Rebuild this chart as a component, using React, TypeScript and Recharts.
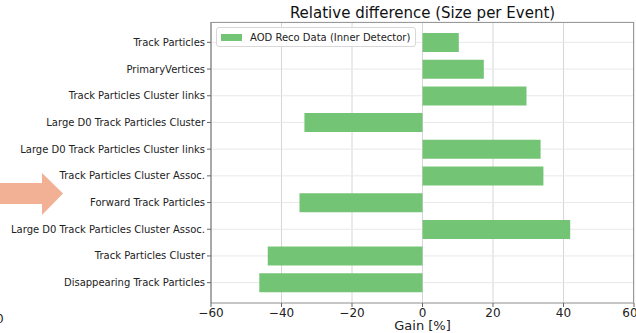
import { BarChart, Bar, XAxis, YAxis, CartesianGrid } from "recharts";

const categories = [
  "Track Particles",
  "PrimaryVertices",
  "Track Particles Cluster links",
  "Large D0 Track Particles Cluster",
  "Large D0 Track Particles Cluster links",
  "Track Particles Cluster Assoc.",
  "Forward Track Particles",
  "Large D0 Track Particles Cluster Assoc.",
  "Track Particles Cluster",
  "Disappearing Track Particles",
];
const gain = [10.3, 17.4, 29.5, -33.5, 33.5, 34.3, -34.9, 41.9, -43.9, -46.3];
const xTicks = [-60, -40, -20, 0, 20, 40, 60];
const seriesName = "AOD Reco Data (Inner Detector)";

const data = categories.map((name, i) => ({ name, gain: gain[i] }));

const FONT = "'DejaVu Sans', sans-serif";
const GREEN = "#74c476";

function CategoryTick(props: any) {
  const { x, y, payload } = props;
  return (
    <text x={x} y={y} dy={3.5} textAnchor="end" fontSize={10} fill="#222" fontFamily={FONT}>
      {payload.value}
    </text>
  );
}

export default function App() {
  return (
    <div style={{ position: "relative", width: 636, height: 333, background: "#fff", fontFamily: FONT }}>
      <style>{"body{margin:0}"}</style>
      <BarChart
        width={636}
        height={333}
        data={data}
        layout="vertical"
        margin={{ top: 22, right: 2, bottom: 0, left: 0 }}
      >
        <CartesianGrid horizontal={false} stroke="#d6d6d6" />
        <CartesianGrid vertical={false} stroke="#e8e8e8" />
        <XAxis
          type="number"
          domain={[-60, 60]}
          ticks={xTicks}
          height={30}
          tickFormatter={(v: number) => (v < 0 ? "\u2212" + Math.abs(v) : String(v))}
          tick={{ fontSize: 12, fill: "#222", fontFamily: FONT, dy: -1 }}
          tickLine={{ stroke: "#666" }}
          tickSize={4}
          axisLine={{ stroke: "#999" }}
        />
        <YAxis
          type="category"
          dataKey="name"
          width={211}
          interval={0}
          padding={{ top: 7, bottom: 7 }}
          tick={<CategoryTick />}
          tickLine={{ stroke: "#666" }}
          tickSize={4}
          axisLine={{ stroke: "#666" }}
        />
        <Bar dataKey="gain" name={seriesName} fill={GREEN} barSize={19} isAnimationActive={false} />
      </BarChart>
      <div
        style={{
          position: "absolute",
          left: 211,
          top: 22,
          width: 423,
          height: 281,
          borderTop: "1px solid #999",
          borderRight: "1px solid #999",
          boxSizing: "border-box",
          pointerEvents: "none",
        }}
      />
      <div
        style={{
          position: "absolute",
          left: 211,
          width: 423,
          top: 5,
          textAlign: "center",
          fontSize: 15,
          lineHeight: "17px",
          color: "#111",
          whiteSpace: "nowrap",
        }}
      >
        Relative difference (Size per Event)
      </div>
      <div
        style={{
          position: "absolute",
          left: 211,
          width: 423,
          top: 318,
          textAlign: "center",
          fontSize: 13,
          lineHeight: "15px",
          color: "#222",
          whiteSpace: "nowrap",
        }}
      >
        Gain [%]
      </div>
      <div
        style={{
          position: "absolute",
          left: 216,
          top: 27,
          display: "flex",
          alignItems: "center",
          border: "1px solid #d8d8d8",
          borderRadius: 3,
          background: "rgba(255,255,255,0.85)",
          padding: "2px 5px 2px 4px",
          fontSize: 10,
          color: "#222",
          height: 14,
          whiteSpace: "nowrap",
        }}
      >
        <span style={{ width: 21, height: 7, background: GREEN, marginRight: 8 }} />
        {seriesName}
      </div>
      <svg style={{ position: "absolute", left: 0, top: 0 }} width={70} height={333}>
        <polygon points="0,183 42,183 42,173 63,193.5 42,215 42,204 0,204" fill="#f2b195" />
        <text x={-4} y={323} fontSize={12} fill="#222" fontFamily={FONT}>0</text>
      </svg>
    </div>
  );
}
